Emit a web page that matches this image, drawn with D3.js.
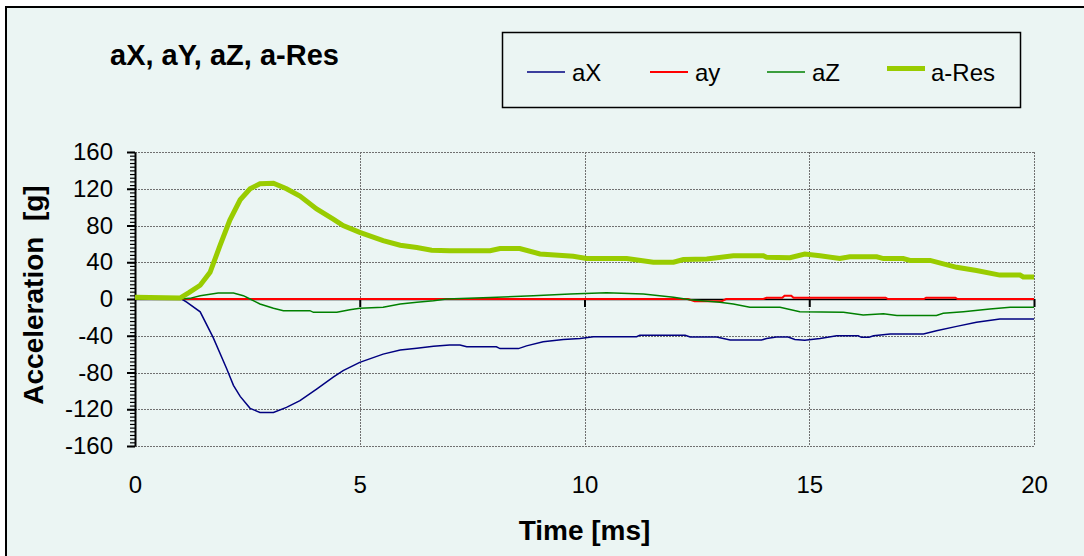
<!DOCTYPE html>
<html>
<head>
<meta charset="utf-8">
<script src="https://cdn.jsdelivr.net/npm/d3@7"></script>
<style>
  html, body { margin: 0; padding: 0; background: #fff; }
  svg { display: block; }
</style>
</head>
<body>
<svg id="chart" width="1084" height="556"></svg>
<script>
// values, [time ms, acceleration g]
const aXData = [[0,0],[1.04,0],[1.15,-3.5],[1.45,-14],[1.74,-42],[2.04,-76],[2.19,-94],[2.34,-106],[2.56,-119],[2.78,-123.5],[3.08,-123.5],
  [3.37,-118],[3.67,-110.7],[4.04,-98],[4.41,-85],[4.63,-78],[5.0,-69],[5.52,-60],[5.9,-55.5],[6.27,-53.5],[6.64,-51.5],[7.0,-50],
  [7.23,-50],[7.38,-52],[8.04,-52],[8.12,-54],[8.53,-54],[8.71,-51],[9.08,-46.5],[9.53,-44],[9.9,-43],[10.2,-41],[11.16,-41],
  [11.23,-39.5],[12.24,-39.5],[12.35,-41.3],[12.94,-41.3],[13.24,-44.6],[13.94,-44.6],[14.05,-43],[14.27,-41.3],[14.53,-41.3],
  [14.68,-44],[14.9,-45],[15.24,-43],[15.61,-40],[16.09,-40],[16.16,-41.7],[16.33,-41.7],[16.43,-40],[16.8,-38],[17.54,-38],
  [17.83,-34.5],[18.28,-29.8],[18.72,-25.4],[19.24,-21.8],[20,-21.8]];

const aYData = [[0,0],[12.3,0],[12.45,-2.5],[13.05,-2.5],[13.15,0],[13.98,0],[14.05,1.4],[14.4,1.4],[14.45,3.6],[14.6,3.6],
  [14.65,1.4],[16.7,1.4],[16.75,0],[17.55,0],[17.6,1.4],[18.25,1.4],[18.3,0],[20,0]];

const aZData = [[0,0],[1.0,0],[1.22,0.7],[1.45,3.6],[1.85,6.5],[2.19,6.5],[2.41,3.6],[2.56,0],[2.78,-5.4],[3.08,-10],[3.3,-12.7],
  [3.89,-12.7],[3.97,-14.5],[4.49,-14.5],[4.78,-11.6],[5.0,-10],[5.52,-9],[5.9,-5.4],[6.27,-3.6],[6.64,-1.8],[6.93,0],[7.9,1.5],
  [8.86,3.6],[9.68,5.4],[10.49,6.9],[11.31,5.4],[11.98,1.8],[12.35,-0.7],[13.01,-3.6],[13.31,-5.4],[13.68,-9],[14.35,-9],
  [14.79,-13.8],[15.76,-14.5],[16.2,-17.4],[16.65,-16],[16.95,-18],[17.83,-18],[17.98,-15.6],[18.43,-13.8],[19.02,-10.9],
  [19.47,-9],[20,-9]];

const aResData = [[0,2],[1.0,1],[1.2,7],[1.45,15],[1.67,29],[1.89,58],[2.11,86],[2.34,108],[2.56,120],[2.78,125.5],[3.08,126],
  [3.37,120],[3.67,112],[4.04,98],[4.41,87],[4.63,80],[5.0,72.5],[5.52,63.5],[5.9,58.5],[6.27,56],[6.6,53],[7.0,52.5],[7.9,52.5],
  [8.12,55],[8.56,55],[9.01,49],[9.75,46.5],[10.05,44],[10.94,44],[11.53,40],[11.98,40],[12.2,43],[12.72,43.5],[13.31,47],
  [13.98,47],[14.05,45.5],[14.57,45],[14.9,49],[15.24,47],[15.68,44],[15.9,46],[16.5,46],[16.65,44],[17.09,44],[17.24,42],
  [17.69,42],[18.28,34.5],[18.72,31],[19.24,26],[19.69,26],[19.76,24],[20,24]];

const seriesNames = ['aX', 'ay', 'aZ', 'a-Res'];
const xTicks = [0, 5, 10, 15, 20];
const yTicks = [-160, -120, -80, -40, 0, 40, 80, 120, 160];

const font = '"Liberation Sans", Arial, sans-serif';
const bg = '#ebf5f3';

const series = [
  {name: seriesNames[0], data: aXData, color: '#000080', width: 1.5},
  {name: seriesNames[1], data: aYData, color: '#ff0000', width: 2},
  {name: seriesNames[2], data: aZData, color: '#008000', width: 1.5},
  {name: seriesNames[3], data: aResData, color: '#99cc00', width: 5}
];

const svg = d3.select('#chart');

// chart area with border (left/top visible)
svg.append('rect')
   .attr('x', 6).attr('y', 7)
   .attr('width', 1090).attr('height', 560)
   .attr('fill', bg)
   .attr('stroke', '#000')
   .attr('stroke-width', 2);

const x = d3.scaleLinear().domain([0, 20]).range([135, 1034]);
const y = d3.scaleLinear().domain([-160, 160]).range([446, 152]);

// gridlines
const grid = svg.append('g')
   .attr('stroke', '#707070')
   .attr('stroke-width', 1)
   .attr('stroke-dasharray', '2,1');

grid.selectAll('line.h')
   .data(yTicks)
   .enter().append('line')
   .attr('x1', x(0)).attr('x2', x(20))
   .attr('y1', d => Math.round(y(d)) + 0.5)
   .attr('y2', d => Math.round(y(d)) + 0.5);

grid.selectAll('line.v')
   .data(xTicks.slice(1))
   .enter().append('line')
   .attr('x1', d => Math.round(x(d)) + 0.5)
   .attr('x2', d => Math.round(x(d)) + 0.5)
   .attr('y1', y(160)).attr('y2', y(-160));

// y axis: minor ticks, then major ticks with labels
svg.append('g')
   .attr('transform', `translate(${x(0)},0)`)
   .call(d3.axisLeft(y).tickValues(d3.range(-160, 161, 4)).tickSize(5).tickSizeOuter(0).tickFormat(''))
   .call(g => g.select('.domain').remove())
   .selectAll('line').attr('stroke', '#000').attr('stroke-width', 1.2);

const yAxis = svg.append('g')
   .attr('transform', `translate(${x(0)},0)`)
   .call(d3.axisLeft(y).tickValues(yTicks).tickSize(8).tickSizeOuter(0).tickPadding(14)
      .tickFormat(d => String(d)));
yAxis.select('.domain').attr('stroke', '#000').attr('stroke-width', 2);
yAxis.selectAll('line').attr('stroke', '#000').attr('stroke-width', 2);
yAxis.selectAll('text')
   .attr('font-family', font)
   .attr('font-size', 24)
   .attr('fill', '#000');

// x axis line at zero with major tick marks
const xAxis0 = svg.append('g')
   .attr('transform', `translate(0,${y(0)})`)
   .call(d3.axisBottom(x).tickValues(xTicks.slice(1)).tickSize(8).tickSizeOuter(0).tickFormat(''));
xAxis0.select('.domain').attr('stroke', '#000').attr('stroke-width', 1.5);
xAxis0.selectAll('line').attr('stroke', '#000').attr('stroke-width', 2);

// x tick labels at the bottom
const xLabels = svg.append('g')
   .attr('transform', `translate(0,${y(-160)})`)
   .call(d3.axisBottom(x).tickValues(xTicks).tickSize(0).tickPadding(30)
      .tickFormat(d => String(d)));
xLabels.select('.domain').remove();
xLabels.selectAll('text')
   .attr('font-family', font)
   .attr('font-size', 24)
   .attr('fill', '#000');

// series
const line = d3.line()
   .x(d => x(d[0]))
   .y(d => y(d[1]));

svg.append('g')
   .selectAll('path')
   .data(series)
   .enter().append('path')
   .attr('d', d => line(d.data))
   .attr('fill', 'none')
   .attr('stroke', d => d.color)
   .attr('stroke-width', d => d.width)
   .attr('stroke-linejoin', 'miter')
   .attr('stroke-linecap', 'butt');

// title and axis titles
svg.append('text')
   .attr('x', 110).attr('y', 65)
   .attr('font-family', font)
   .attr('font-size', 29)
   .attr('font-weight', 'bold')
   .text('aX, aY, aZ, a-Res');

svg.append('text')
   .attr('x', (x(0) + x(20)) / 2).attr('y', 540)
   .attr('text-anchor', 'middle')
   .attr('font-family', font)
   .attr('font-size', 28)
   .attr('font-weight', 'bold')
   .text('Time [ms]');

svg.append('text')
   .attr('transform', 'translate(43,295) rotate(-90)')
   .attr('text-anchor', 'middle')
   .attr('font-family', font)
   .attr('font-size', 28)
   .attr('font-weight', 'bold')
   .attr('xml:space', 'preserve')
   .style('white-space', 'pre')
   .text('Acceleration  [g]');

// legend
const legend = svg.append('g');
legend.append('rect')
   .attr('x', 502.5).attr('y', 32.5)
   .attr('width', 518).attr('height', 75)
   .attr('fill', bg)
   .attr('stroke', '#000')
   .attr('stroke-width', 1.5);

const legendX = [527, 650, 767, 887];
const item = legend.selectAll('g.item')
   .data(series)
   .enter().append('g')
   .attr('transform', (d, i) => `translate(${legendX[i]},0)`);

item.append('line')
   .attr('x1', 0).attr('x2', 38)
   .attr('y1', d => d.width > 3 ? 68.5 : 72)
   .attr('y2', d => d.width > 3 ? 68.5 : 72)
   .attr('stroke', d => d.color)
   .attr('stroke-width', d => d.width);

item.append('text')
   .attr('x', d => d.width > 3 ? 44 : 45)
   .attr('y', 81)
   .attr('font-family', font)
   .attr('font-size', 24)
   .text(d => d.name);
</script>
</body>
</html>
